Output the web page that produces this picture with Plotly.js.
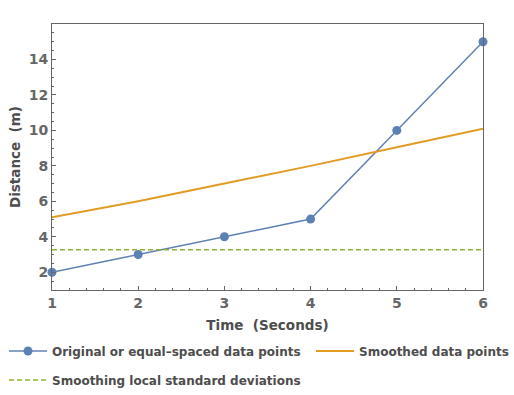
<!DOCTYPE html>
<html>
<head>
<meta charset="utf-8">
<script src="https://cdn.plot.ly/plotly-3.0.1.min.js"></script>
<style>html,body{margin:0;padding:0;background:#fff;}#chart{width:514px;height:395px;}</style>
</head>
<body>
<div id="chart"></div>
<script>
var timeSeconds = [1, 2, 3, 4, 5, 6];
var originalDistance = [2, 3, 4, 5, 10, 15];
var smoothedDistance = [5.1, 6.0, 7.0, 8.0, 9.05, 10.1];
var localStdDev = [3.27, 3.27, 3.27, 3.27, 3.27, 3.27];
var seriesNames = ["Original or equal\u2013spaced data points", "Smoothed data points", "Smoothing local standard deviations"];
var xTicks = [1, 2, 3, 4, 5, 6];
var yTicks = [2, 4, 6, 8, 10, 12, 14];

var font = "DejaVu Sans, sans-serif";
var traces = [
  {x: timeSeconds, y: originalDistance, name: seriesNames[0], type: "scatter", mode: "lines+markers",
   line: {color: "#5E81B5", width: 1.5}, marker: {color: "#5E81B5", size: 9}, cliponaxis: false, legend: "legend"},
  {x: timeSeconds, y: smoothedDistance, name: seriesNames[1], type: "scatter", mode: "lines",
   line: {color: "#E19C24", width: 2}, legend: "legend2"},
  {x: timeSeconds, y: localStdDev, name: seriesNames[2], type: "scatter", mode: "lines",
   line: {color: "#8FB032", width: 1.5, dash: "5px,3px"}, legend: "legend3"}
];
var axisCommon = {
  showgrid: false, zeroline: false, showline: true, mirror: true, automargin: false,
  linecolor: "#666666", linewidth: 1, ticks: "inside", ticklen: 4, tickcolor: "#666666",
  tickfont: {family: font, size: 14, color: "#666666", weight: "bold"}
};
var legendFont = {family: font, size: 12, color: "#4d4d4d", weight: "bold"};
function legendAt(xc, yc) {
  return {xref: "container", yref: "container", x: xc, y: yc, xanchor: "left", yanchor: "middle",
          orientation: "h", font: legendFont, bgcolor: "rgba(0,0,0,0)", itemwidth: 38};
}
var layout = {
  width: 514, height: 395,
  margin: {l: 52, r: 31, t: 24, b: 105, autoexpand: false},
  paper_bgcolor: "#ffffff", plot_bgcolor: "#ffffff",
  showlegend: true,
  legend: legendAt(4 / 514, 1 - 351 / 395),
  legend2: legendAt(311 / 514, 1 - 351 / 395),
  legend3: legendAt(4 / 514, 1 - 380 / 395),
  xaxis: Object.assign({}, axisCommon, {
    range: [1, 6], tickvals: xTicks, ticktext: xTicks.map(String),
    minor: {dtick: 0.2, ticks: "inside", ticklen: 2, tickcolor: "#666666"},
    title: {text: "Time  (Seconds)", font: {family: font, size: 13.5, color: "#4d4d4d", weight: "bold"}, standoff: 10}
  }),
  yaxis: Object.assign({}, axisCommon, {
    range: [1, 16], tickvals: yTicks, ticktext: yTicks.map(String),
    minor: {dtick: 0.5, ticks: "inside", ticklen: 2, tickcolor: "#666666"},
    title: {text: "Distance  (m)", font: {family: font, size: 13.5, color: "#4d4d4d", weight: "bold"}, standoff: 4}
  })
};
Plotly.newPlot("chart", traces, layout, {displayModeBar: false, staticPlot: true});
</script>
</body>
</html>
